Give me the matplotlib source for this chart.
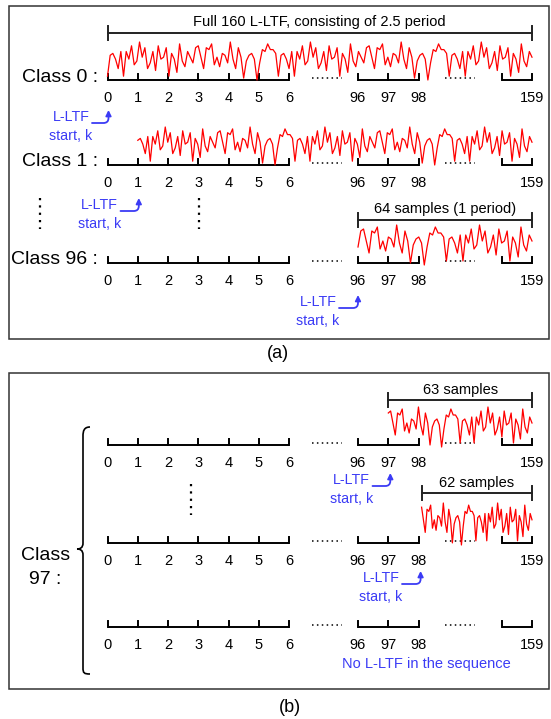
import numpy as np
import matplotlib
matplotlib.use("Agg")
import matplotlib.pyplot as plt
from matplotlib.path import Path
from matplotlib.patches import PathPatch, Rectangle

plt.rcParams['font.family'] = ['Liberation Sans', 'DejaVu Sans']

# ---------------- data ----------------
# one 64-sample period of the L-LTF magnitude (normalised)
period_values = [0.45, 0.85, 0.90, 0.60, 0.30, 0.85, 0.80, 0.95, 0.40, 0.60,
                 0.35, 0.70, 0.65, 0.45, 1.00, 0.55, 0.30, 0.85, 0.60, 0.05,
                 0.50, 0.65, 0.70, 0.55, 0.00, 0.45, 0.80, 0.75, 0.95, 0.80,
                 0.80, 0.70, 0.10, 0.65, 0.70, 0.55, 0.30, 0.75, 0.10, 0.75,
                 0.55, 0.90, 0.40, 0.50, 1.00, 0.60, 0.85, 0.30, 0.45, 0.75,
                 0.25, 0.90, 0.55, 0.60, 0.85, 0.10, 0.70, 0.55, 0.20, 0.95,
                 0.50, 0.35, 0.75, 0.60]
cp_values = period_values[32:]                      # 32-sample cyclic prefix
full_ltf = cp_values + period_values + period_values  # 160 samples = 2.5 periods

left_ticks = [0, 1, 2, 3, 4, 5, 6]
mid_ticks = [96, 97, 98]
end_tick = 159
class_labels_a = ['Class 0 :', 'Class 1 :', 'Class 96 :']
start_index_a = [0, 1, 96]
start_index_b = [97, 98, None]
sample_counts_b = [63, 62]
top_caption = 'Full 160 L-LTF, consisting of 2.5 period'
period_caption = '64 samples (1 period)'
blue_note = 'No L-LTF in the sequence'

# ---------------- layout ----------------
BLUE = '#3b3bf5'
RED = '#ff0000'
W, H = 551, 719
fig = plt.figure(figsize=(W / 100, H / 100), dpi=100)
ax = fig.add_axes([0, 0, 1, 1])
ax.set_xlim(0, W)
ax.set_ylim(H, 0)
ax.axis('off')

STEP = 30.3


def X(k):
    if k <= 6:
        return 107.5 + STEP * k
    if k <= 98:
        return 358.0 + STEP * (k - 96)
    return 532.0


LW = 1.4
TK = 6


def number_line(y):
    ax.plot([X(0), X(6)], [y, y], color='k', lw=LW, solid_capstyle='butt')
    for k in left_ticks:
        ax.plot([X(k), X(k)], [y, y - TK], color='k', lw=LW)
    ax.plot([X(96), X(98)], [y, y], color='k', lw=LW, solid_capstyle='butt')
    for k in mid_ticks:
        ax.plot([X(k), X(k)], [y, y - TK], color='k', lw=LW)
    xb = X(end_tick) - STEP
    ax.plot([xb, X(end_tick)], [y, y], color='k', lw=LW, solid_capstyle='butt')
    for xx in (xb, X(end_tick)):
        ax.plot([xx, xx], [y, y - TK], color='k', lw=LW)
    # dotted gaps
    ax.plot([312, 342], [y - 2, y - 2], color='k', lw=1.1, ls=(0, (1, 2.2)))
    ax.plot([445, 475], [y - 2, y - 2], color='k', lw=1.1, ls=(0, (1, 2.2)))
    # labels
    for k in left_ticks + mid_ticks + [end_tick]:
        ax.text(X(k), y + 18, str(k), ha='center', va='center', fontsize=10.5)


def waveform(values, x_start, x_end, y_line, height=38, offset=0):
    xs = np.linspace(x_start, x_end, len(values))
    ys = y_line + offset - np.asarray(values) * height
    ax.plot(xs, ys, color=RED, lw=0.9)


def bracket(x1, x2, y, text, ty):
    ax.plot([x1, x2], [y, y], color='#222222', lw=LW)
    for xx in (x1, x2):
        ax.plot([xx, xx], [y - 7, y + 7], color='#222222', lw=LW)
    ax.text((x1 + x2) / 2, ty, text, ha='center', va='center', fontsize=10.5)


def ltf_note(cx, y, tip_x):
    ax.text(cx, y, 'L-LTF', ha='center', va='center', fontsize=10.3, color=BLUE)
    ax.text(cx, y + 19, 'start, k', ha='center', va='center', fontsize=10.3, color=BLUE)
    x_start = cx + 21
    ax.annotate('', xy=(tip_x, y - 7), xytext=(x_start, y + 6),
                arrowprops=dict(arrowstyle='-|>', color=BLUE, lw=1.3,
                                connectionstyle='angle,angleA=0,angleB=90,rad=5',
                                shrinkA=0, shrinkB=0, mutation_scale=8))


def vdots(x, y1, y2):
    ax.plot([x, x], [y1, y2], color='k', lw=1.6, ls=(0, (1, 2.3)))


# ---------------- panel (a) ----------------
ax.add_patch(Rectangle((9, 6), 540, 333, fill=False, ec='#333333', lw=1.1))
ax.text(278, 353, '(a)', ha='center', va='center', fontsize=13)

lines_a = [80, 165, 263]
bracket(X(0), X(end_tick), 33, top_caption, 22)
for lbl, yl, k0 in zip(class_labels_a, lines_a, start_index_a):
    ax.text(98, yl - 3, lbl, ha='right', va='center', fontsize=14)
    number_line(yl)

waveform(full_ltf, X(0), X(end_tick), lines_a[0])
waveform(full_ltf[start_index_a[1]:], X(1), X(end_tick), lines_a[1])
waveform(period_values, X(96), X(end_tick), lines_a[2], height=40, offset=2)
bracket(X(96), X(end_tick), 220, period_caption, 209)

ltf_note(71, 117, X(0) + 1)
ltf_note(99.5, 205, X(1) + 1)
ltf_note(318, 302, X(96))
vdots(40, 198, 229)
vdots(199, 198, 229)

# ---------------- panel (b) ----------------
ax.add_patch(Rectangle((9, 373), 540, 316, fill=False, ec='#333333', lw=1.1))
ax.text(290, 708, '(b)', ha='center', va='center', fontsize=13)

lines_b = [445, 543, 627]
for yl in lines_b:
    number_line(yl)

# 63-sample and 62-sample partial L-LTF
waveform(period_values[1:], X(97), X(end_tick), lines_b[0], height=40, offset=2)
bracket(X(97), X(end_tick), 400, '%d samples' % sample_counts_b[0], 390)
waveform(period_values[2:], X(98) + 3, X(end_tick), lines_b[1], height=42, offset=2)
bracket(X(98) + 3, X(end_tick), 493, '%d samples' % sample_counts_b[1], 483)

ltf_note(351.5, 480, X(97) + 2)
ltf_note(381, 578, X(98) + 2)
ax.text(426, 664, blue_note, ha='center', va='center', fontsize=10.5, color=BLUE)
vdots(191, 484, 515)

# curly brace
verts = [(90, 427), (84, 427), (83, 431), (83, 436),
         (83, 543),
         (83, 548), (80, 549), (77, 549),
         (80, 549), (83, 550), (83, 555),
         (83, 668),
         (83, 673), (84, 674), (90, 674)]
codes = [Path.MOVETO, Path.CURVE4, Path.CURVE4, Path.CURVE4,
         Path.LINETO,
         Path.CURVE4, Path.CURVE4, Path.CURVE4,
         Path.CURVE4, Path.CURVE4, Path.CURVE4,
         Path.LINETO,
         Path.CURVE4, Path.CURVE4, Path.CURVE4]
ax.add_patch(PathPatch(Path(verts, codes), fill=False, ec='k', lw=1.2))
ax.text(46, 555, 'Class', ha='center', va='center', fontsize=14)
ax.text(45, 580, '97 :', ha='center', va='center', fontsize=14)

fig.savefig('out.png', dpi=100)
